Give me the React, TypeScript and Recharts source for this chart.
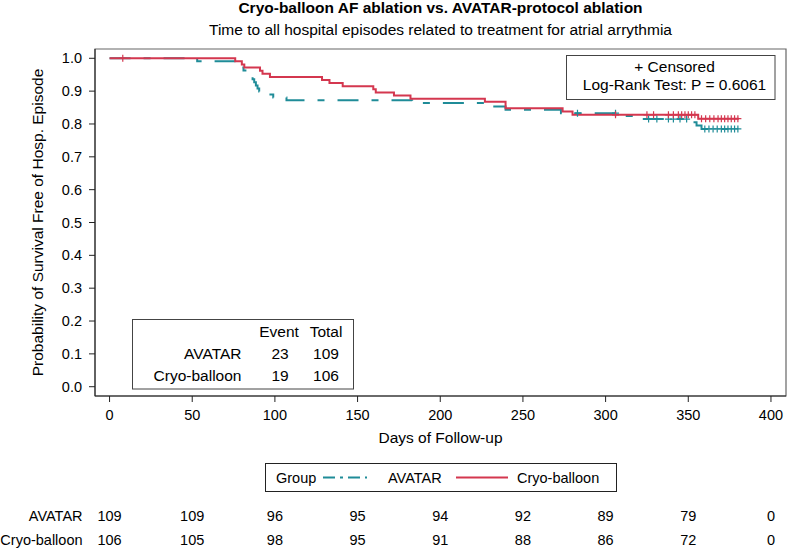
import React from 'react';
import { ComposedChart, Line, Scatter, XAxis, YAxis, Legend, ReferenceArea } from 'recharts';

const FONT = '"Liberation Sans", Arial, Helvetica, sans-serif';
const TEAL = '#1F8C98';
const RED = '#D4374F';

const titleText = 'Cryo-balloon AF ablation vs. AVATAR-protocol ablation';
const subtitleText = 'Time to all hospital episodes related to treatment for atrial arrythmia';
const xLabel = 'Days of Follow-up';
const yLabel = 'Probability of Survival Free of Hosp. Episode';

const groupNames = ['AVATAR', 'Cryo-balloon'];

const avatarCurve = [
  { t: 0, s: 1.0 }, { t: 53, s: 0.991 }, { t: 77, s: 0.982 }, { t: 79, s: 0.972 },
  { t: 81, s: 0.963 }, { t: 84.5, s: 0.954 }, { t: 85.5, s: 0.945 }, { t: 86.5, s: 0.936 },
  { t: 87.5, s: 0.927 }, { t: 88.5, s: 0.917 }, { t: 89.5, s: 0.908 }, { t: 90.5, s: 0.899 },
  { t: 91.5, s: 0.89 }, { t: 99, s: 0.881 }, { t: 107, s: 0.872 }, { t: 183, s: 0.864 },
  { t: 230, s: 0.853 }, { t: 239.5, s: 0.843 }, { t: 273, s: 0.833 }, { t: 308, s: 0.824 },
  { t: 322, s: 0.815 }, { t: 352, s: 0.805 }, { t: 355, s: 0.795 }, { t: 358, s: 0.785 },
  { t: 380.6, s: 0.785 },
];

const cryoCurve = [
  { t: 0, s: 1.0 }, { t: 76, s: 0.991 }, { t: 80, s: 0.981 }, { t: 81.5, s: 0.972 },
  { t: 91, s: 0.962 }, { t: 92.5, s: 0.953 }, { t: 97, s: 0.943 }, { t: 128.5, s: 0.934 },
  { t: 133, s: 0.925 }, { t: 141, s: 0.915 }, { t: 159.5, s: 0.906 }, { t: 161, s: 0.896 },
  { t: 172, s: 0.887 }, { t: 182, s: 0.877 }, { t: 227, s: 0.868 }, { t: 239.5, s: 0.848 },
  { t: 274, s: 0.838 }, { t: 280, s: 0.828 }, { t: 356, s: 0.816 }, { t: 380.6, s: 0.816 },
];

const avatarCensored = [
  { t: 283, s: 0.833 }, { t: 306, s: 0.833 }, { t: 326, s: 0.815 }, { t: 331, s: 0.815 },
  { t: 338, s: 0.815 }, { t: 341, s: 0.815 }, { t: 345, s: 0.815 }, { t: 349, s: 0.815 },
  { t: 360, s: 0.785 }, { t: 362.5, s: 0.785 }, { t: 365, s: 0.785 }, { t: 367.5, s: 0.785 },
  { t: 370, s: 0.785 }, { t: 372, s: 0.785 }, { t: 374, s: 0.785 }, { t: 376, s: 0.785 },
  { t: 378, s: 0.785 }, { t: 380, s: 0.785 },
];

const cryoCensored = [
  { t: 8, s: 1.0 }, { t: 306, s: 0.828 }, { t: 325, s: 0.828 }, { t: 329, s: 0.828 },
  { t: 338, s: 0.828 }, { t: 341, s: 0.828 }, { t: 344, s: 0.828 }, { t: 346, s: 0.828 },
  { t: 348, s: 0.828 }, { t: 350, s: 0.828 }, { t: 352, s: 0.828 }, { t: 354, s: 0.828 },
  { t: 358, s: 0.816 }, { t: 360.5, s: 0.816 }, { t: 363, s: 0.816 }, { t: 365.5, s: 0.816 },
  { t: 368, s: 0.816 }, { t: 370, s: 0.816 }, { t: 372, s: 0.816 }, { t: 374, s: 0.816 },
  { t: 376, s: 0.816 }, { t: 378, s: 0.816 }, { t: 380, s: 0.816 },
];

const xTicks = [0, 50, 100, 150, 200, 250, 300, 350, 400];
const yTicks = [0, 0.1, 0.2, 0.3, 0.4, 0.5, 0.6, 0.7, 0.8, 0.9, 1.0];
const avatarAtRisk = [109, 109, 96, 95, 94, 92, 89, 79, 0];
const cryoAtRisk = [106, 105, 98, 95, 91, 88, 86, 72, 0];

const eventHeaders = ['Event', 'Total'];
const eventRows = [
  { group: 'AVATAR', event: 23, total: 109 },
  { group: 'Cryo-balloon', event: 19, total: 106 },
];
const censoredLabel = '+ Censored';
const logRankText = 'Log-Rank Test: P = 0.6061';

const X_DOMAIN: [number, number] = [-8.8, 409.1];
const Y_DOMAIN: [number, number] = [-0.0283, 1.0283];

// rows for the number-at-risk axes (the library places them via its x scale)
const riskRowA = xTicks.map((t, i) => ({ t, s: 0.5, n: avatarAtRisk[i] }));
const riskRowC = xTicks.map((t, i) => ({ t, s: 0.5, n: cryoAtRisk[i] }));

const seriesStyle: Record<string, { color: string; dash?: string; legendDash?: string }> = {
  AVATAR: { color: TEAL, dash: '21 13 7 13', legendDash: '12 5 3 5' },
  'Cryo-balloon': { color: RED },
};

const makeCross = (color: string) => (props: any) => {
  const { cx, cy } = props;
  if (cx == null || cy == null) return <g />;
  return (
    <path
      d={`M${cx - 3.5},${cy}H${cx + 3.5}M${cx},${cy - 3.5}V${cy + 3.5}`}
      stroke={color}
      strokeWidth={1.2}
      fill="none"
    />
  );
};

const NoShape = () => <g />;

const makeRiskTick = (label: string, values: number[]) => (props: any) => {
  const { x, y, payload } = props;
  const i = xTicks.indexOf(payload.value);
  return (
    <g>
      {i === 0 && (
        <text x={x - 27} y={y + 16.5} textAnchor="end" fontSize={14.5} fontFamily={FONT} fill="#000">
          {label}
        </text>
      )}
      <text x={x} y={y + 16.5} textAnchor="middle" fontSize={14.5} fontFamily={FONT} fill="#000">
        {i >= 0 ? values[i] : ''}
      </text>
    </g>
  );
};

const LegendBox = (props: any) => {
  const payload = (props.payload || []).filter((p: any) => seriesStyle[p.value]);
  const layout = [
    { line: [58, 102], text: 123 },
    { line: [191, 243], text: 252 },
  ];
  return (
    <svg width={352} height={29} style={{ display: 'block', fontFamily: FONT }}>
      <rect x={0.5} y={0.5} width={351} height={28} fill="#fff" stroke="#222" strokeWidth={1} />
      <text x={11} y={19.5} fontSize={14.5} fill="#000">Group</text>
      {payload.map((p: any, i: number) => {
        const st = seriesStyle[p.value];
        const l = layout[i] || layout[0];
        return (
          <g key={p.value}>
            <line x1={l.line[0]} x2={l.line[1]} y1={14.5} y2={14.5} stroke={st.color} strokeWidth={2} strokeDasharray={st.legendDash} />
            <text x={l.text} y={19.5} fontSize={14.5} fill="#000">{p.value}</text>
          </g>
        );
      })}
    </svg>
  );
};

const YLabel = (p: any) => {
  const vb = p.viewBox || { x: 0, y: 49, width: 95, height: 347 };
  const cx = 37.5;
  const cy = vb.y + vb.height / 2;
  return (
    <text
      x={cx}
      y={cy}
      dy="0.35em"
      transform={`rotate(-90 ${cx} ${cy})`}
      textAnchor="middle"
      fontSize={15.5}
      fontFamily={FONT}
      fill="#000"
    >
      {yLabel}
    </text>
  );
};

export default function App() {
  const txt = { fontFamily: FONT, fill: '#000' };
  return (
    <div style={{ position: 'absolute', left: 0, top: 0, width: 788, height: 552, background: '#fff' }}>
      <ComposedChart width={788} height={552} margin={{ top: 49, right: 2, bottom: 0, left: 0 }}>
        <ReferenceArea
          x1={X_DOMAIN[0]}
          x2={X_DOMAIN[1]}
          y1={Y_DOMAIN[0]}
          y2={Y_DOMAIN[1]}
          fill="none"
          stroke="#666"
          strokeWidth={1.2}
          ifOverflow="visible"
        />
        <XAxis
          dataKey="t"
          type="number"
          domain={X_DOMAIN}
          allowDataOverflow
          ticks={xTicks}
          interval={0}
          height={108}
          tickSize={6}
          tickMargin={8}
          stroke="#222"
          tick={{ fontSize: 14.5, fill: '#000', fontFamily: FONT }}
          label={{ value: xLabel, position: 'insideTop', offset: 35.5, fontSize: 15.5, fill: '#000', fontFamily: FONT }}
        />
        <XAxis
          xAxisId="riskA"
          dataKey="t"
          type="number"
          domain={X_DOMAIN}
          allowDataOverflow
          ticks={xTicks}
          interval={0}
          height={24}
          axisLine={false}
          tickLine={false}
          tickSize={0}
          tickMargin={0}
          tick={makeRiskTick(groupNames[0], avatarAtRisk)}
        />
        <XAxis
          xAxisId="riskC"
          dataKey="t"
          type="number"
          domain={X_DOMAIN}
          allowDataOverflow
          ticks={xTicks}
          interval={0}
          height={24}
          axisLine={false}
          tickLine={false}
          tickSize={0}
          tickMargin={0}
          tick={makeRiskTick(groupNames[1], cryoAtRisk)}
        />
        <YAxis
          dataKey="s"
          type="number"
          domain={Y_DOMAIN}
          allowDataOverflow
          ticks={yTicks}
          interval={0}
          width={95}
          tickSize={6}
          tickMargin={7}
          stroke="#222"
          tickFormatter={(v: number) => v.toFixed(1)}
          tick={{ fontSize: 14.5, fill: '#000', fontFamily: FONT }}
          label={{ content: YLabel }}
        />
        <Scatter xAxisId="riskA" data={riskRowA} dataKey="s" legendType="none" shape={NoShape} isAnimationActive={false} />
        <Scatter xAxisId="riskC" data={riskRowC} dataKey="s" legendType="none" shape={NoShape} isAnimationActive={false} />
        <Line
          data={avatarCurve}
          dataKey="s"
          name={groupNames[0]}
          type="stepAfter"
          stroke={TEAL}
          strokeWidth={2}
          strokeDasharray={seriesStyle.AVATAR.dash}
          dot={false}
          activeDot={false}
          isAnimationActive={false}
        />
        <Line
          data={cryoCurve}
          dataKey="s"
          name={groupNames[1]}
          type="stepAfter"
          stroke={RED}
          strokeWidth={2}
          dot={false}
          activeDot={false}
          isAnimationActive={false}
        />
        <Scatter data={avatarCensored} dataKey="s" legendType="none" shape={makeCross(TEAL)} isAnimationActive={false} />
        <Scatter data={cryoCensored} dataKey="s" legendType="none" shape={makeCross(RED)} isAnimationActive={false} />
        <Legend
          layout="horizontal"
          verticalAlign="middle"
          align="center"
          content={LegendBox}
          wrapperStyle={{ left: 265, top: 463, width: 352, height: 29, right: 'auto', bottom: 'auto', margin: 0 }}
        />
        <text x={440.5} y={13} textAnchor="middle" fontSize={15.5} fontWeight="bold" {...txt}>{titleText}</text>
        <text x={440.5} y={35} textAnchor="middle" fontSize={15.5} {...txt}>{subtitleText}</text>
        <g>
          <rect x={566.5} y={55.5} width={208.5} height={44} fill="#fff" stroke="#444" strokeWidth={1} />
          <text x={674.5} y={72} textAnchor="middle" fontSize={15.5} {...txt}>{censoredLabel}</text>
          <text x={674.5} y={90} textAnchor="middle" fontSize={15.5} {...txt}>{logRankText}</text>
        </g>
        <g>
          <rect x={132.5} y={319.5} width={221} height={69.5} fill="#fff" stroke="#444" strokeWidth={1} />
          <text x={279} y={337} textAnchor="middle" fontSize={15.5} {...txt}>{eventHeaders[0]}</text>
          <text x={326} y={337} textAnchor="middle" fontSize={15.5} {...txt}>{eventHeaders[1]}</text>
          {eventRows.map((r, i) => (
            <g key={r.group}>
              <text x={241.5} y={359 + i * 22} textAnchor="end" fontSize={15.5} {...txt}>{r.group}</text>
              <text x={280} y={359 + i * 22} textAnchor="middle" fontSize={15.5} {...txt}>{r.event}</text>
              <text x={326} y={359 + i * 22} textAnchor="middle" fontSize={15.5} {...txt}>{r.total}</text>
            </g>
          ))}
        </g>
      </ComposedChart>
    </div>
  );
}
